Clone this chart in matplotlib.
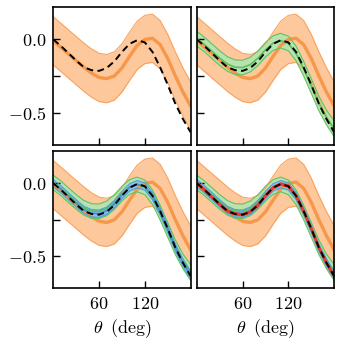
import numpy as np
import matplotlib
matplotlib.use("Agg")
import matplotlib.pyplot as plt

plt.rcParams['mathtext.fontset'] = 'cm'
plt.rcParams['font.family'] = 'serif'
plt.rcParams['font.serif'] = ['DejaVu Serif']

# --- datos ---
theta = [0, 10, 20, 30, 40, 50, 60, 70, 80, 90, 100, 110, 120, 130, 140, 150, 160, 170, 180]

truth = [0.0, -0.045, -0.095, -0.145, -0.19, -0.21, -0.215, -0.195, -0.15, -0.085,
         -0.03, -0.005, -0.02, -0.085, -0.19, -0.31, -0.44, -0.545, -0.635]

orange_mean = [-0.01, -0.055, -0.10, -0.145, -0.19, -0.23, -0.26, -0.268, -0.25, -0.195,
               -0.115, -0.04, 0.0, 0.008, -0.035, -0.13, -0.25, -0.36, -0.455]
orange_std = [0.165, 0.165, 0.165, 0.165, 0.165, 0.165, 0.165, 0.165, 0.165, 0.165,
              0.165, 0.165, 0.165, 0.165, 0.165, 0.165, 0.165, 0.165, 0.165]

green_mean = [0.005, -0.035, -0.082, -0.128, -0.168, -0.19, -0.192, -0.172, -0.128, -0.07,
              -0.025, -0.008, -0.028, -0.095, -0.2, -0.318, -0.438, -0.535, -0.61]
green_std = [0.05, 0.05, 0.05, 0.05, 0.05, 0.05, 0.05, 0.05, 0.05, 0.05,
             0.05, 0.05, 0.05, 0.05, 0.05, 0.05, 0.05, 0.05, 0.055]

blue_mean = [0.0, -0.042, -0.09, -0.138, -0.182, -0.205, -0.208, -0.188, -0.142, -0.08,
             -0.028, -0.006, -0.022, -0.088, -0.193, -0.312, -0.44, -0.542, -0.628]
blue_std = [0.025, 0.025, 0.025, 0.025, 0.025, 0.025, 0.025, 0.025, 0.025, 0.025,
            0.025, 0.025, 0.025, 0.025, 0.025, 0.025, 0.025, 0.025, 0.028]

red_mean = [0.0, -0.045, -0.095, -0.145, -0.19, -0.21, -0.215, -0.195, -0.15, -0.085,
            -0.03, -0.005, -0.02, -0.085, -0.19, -0.31, -0.44, -0.545, -0.635]
red_std = [0.008, 0.008, 0.008, 0.008, 0.008, 0.008, 0.008, 0.008, 0.008, 0.008,
           0.008, 0.008, 0.008, 0.008, 0.008, 0.008, 0.008, 0.008, 0.008]

x_ticks = [60, 120]
x_ticklabels = ['$60$', '$120$']
y_ticks = [-0.5, -0.25, 0.0]
y_ticklabels = ['$-0.5$', '', '$0.0$']

# colores: (relleno, borde, linea central)
naranja = ('#fdc89c', '#f9a35e', '#f7974a')
verde = ('#b8e3b0', '#5ec45e', '#5cbf5c')
azul = ('#8cc0e8', '#4f9fd8', '#3d8fd0')
rojo = ('#f08a80', '#e8473a', '#e8392c')


def banda(ax, mean, std, colores, lw):
    m = np.array(mean)
    s = np.array(std)
    ax.fill_between(theta, m - s, m + s, color=colores[0], lw=0)
    ax.plot(theta, m - s, color=colores[1], lw=0.8)
    ax.plot(theta, m + s, color=colores[1], lw=0.8)
    ax.plot(theta, m, color=colores[2], lw=lw)


fig, axs = plt.subplots(2, 2, figsize=(3.42, 3.48), dpi=100, sharex=True, sharey=True)
fig.subplots_adjust(left=0.156, right=0.977, top=0.979, bottom=0.171, wspace=0.046, hspace=0.047)

for i, ax in enumerate(axs.flat):
    banda(ax, orange_mean, orange_std, naranja, 2.4)
    if i >= 1:
        banda(ax, green_mean, green_std, verde, 1.2)
    if i >= 2:
        banda(ax, blue_mean, blue_std, azul, 1.2)
    if i >= 3:
        banda(ax, red_mean, red_std, rojo, 2.0)
    ax.plot(theta, truth, color='black', ls=(0, (3.5, 2.2)), lw=1.4)

    ax.set_xlim(0, 180)
    ax.set_ylim(-0.72, 0.22)
    ax.set_xticks(x_ticks)
    ax.set_yticks(y_ticks)
    ax.tick_params(direction='in', length=5, width=1.0, labelsize=13, pad=5)
    for sp in ax.spines.values():
        sp.set_linewidth(1.2)

for ax in axs[1, :]:
    ax.set_xticklabels(x_ticklabels)
    ax.set_xlabel(r'$\theta\;\;(\mathrm{deg})$', fontsize=13, labelpad=3)
for ax in axs[:, 0]:
    ax.set_yticklabels(y_ticklabels)

plt.savefig('out.png', dpi=100)
